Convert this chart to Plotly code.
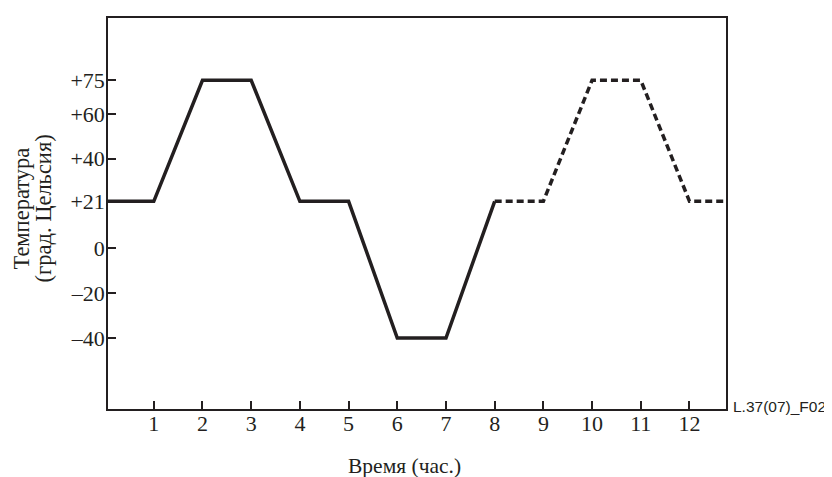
import plotly.graph_objects as go

hours_solid = [0, 1, 2, 3, 4, 5, 6, 7, 8]
temp_solid = [21, 21, 75, 75, 21, 21, -40, -40, 21]
hours_dashed = [8, 9, 10, 11, 12, 13]
temp_dashed = [21, 21, 75, 75, 21, 21]

x_ticks = list(range(1, 13))
x_labels = [str(v) for v in x_ticks]
y_ticks = [75, 60, 40, 21, 0, -20, -40]
y_labels = ["+75", "+60", "+40", "+21", "0", "\u201320", "\u201340"]

ink = "#231f20"
serif = "Liberation Serif, Times New Roman, serif"

fig = go.Figure()
fig.add_trace(go.Scatter(x=hours_solid, y=temp_solid, mode="lines",
                         line=dict(color=ink, width=3.5), showlegend=False))
fig.add_trace(go.Scatter(x=hours_dashed, y=temp_dashed, mode="lines",
                         line=dict(color=ink, width=3.5, dash="7px,4px"), showlegend=False))

# page has an 8px body margin; size/margins compensate for it
fig.update_layout(
    width=824, height=469,
    margin=dict(l=100, r=106, t=8, b=68),
    plot_bgcolor="white", paper_bgcolor="white",
    font=dict(family=serif, size=22, color=ink),
    xaxis=dict(range=[0.06, 12.75], tickvals=x_ticks, ticktext=x_labels,
               ticks="inside", ticklen=8, tickwidth=2, tickcolor=ink,
               showline=True, linecolor=ink, linewidth=1.5, mirror=True,
               showgrid=False, zeroline=False, ticklabelstandoff=-6),
    yaxis=dict(range=[-71.7, 102.8], tickvals=y_ticks, ticktext=y_labels,
               ticks="inside", ticklen=8, tickwidth=2, tickcolor=ink,
               showline=True, linecolor=ink, linewidth=1.5, mirror=True,
               showgrid=False, zeroline=False, ticklabelstandoff=-3),
    annotations=[
        dict(text="Время (час.)", xref="paper", yref="paper", x=0, y=0,
             xanchor="center", yanchor="middle", xshift=296, yshift=-57,
             showarrow=False, font=dict(size=21.5)),
        dict(text="Температура", xref="paper", yref="paper", x=0, y=0.5,
             xanchor="center", yanchor="middle", xshift=-87, yshift=5,
             textangle=-90, showarrow=False, font=dict(size=22.5)),
        dict(text="(град. Цельсия)", xref="paper", yref="paper", x=0, y=0.5,
             xanchor="center", yanchor="middle", xshift=-65, yshift=5,
             textangle=-90, showarrow=False, font=dict(size=22.5)),
        dict(text="L.37(07)_F02", xref="paper", yref="paper", x=1, y=0,
             xanchor="left", yanchor="middle", xshift=5, yshift=3, showarrow=False,
             font=dict(family="Liberation Sans, Arial, sans-serif", size=15.5, color=ink)),
    ],
)

fig.write_html("out.html")
